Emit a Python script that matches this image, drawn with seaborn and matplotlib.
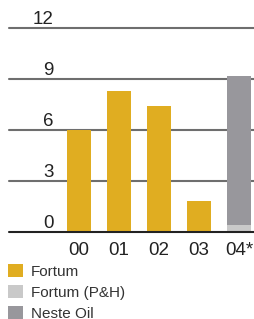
import numpy as np
import pandas as pd
import matplotlib
matplotlib.use("Agg")
import matplotlib.pyplot as plt
from matplotlib.patches import Patch
import seaborn as sns

# Data
years = ["00", "01", "02", "03", "04*"]
fortum = [6.0, 8.3, 7.4, 1.8, 0.0]
fortum_ph = [0.0, 0.0, 0.0, 0.0, 0.4]
neste_oil = [0.0, 0.0, 0.0, 0.0, 8.8]
yticks = [0, 3, 6, 9, 12]

series_names = ["Fortum", "Fortum (P&H)", "Neste Oil"]
colors = ["#e0ad21", "#c9c9c9", "#98979c"]

sns.set_theme(style="white")
plt.rcParams["font.family"] = ["Liberation Sans", "DejaVu Sans"]

df = pd.DataFrame({"year": years, "fortum": fortum, "ph": fortum_ph, "neste": neste_oil})
df["lvl1"] = df["fortum"]
df["lvl2"] = df["fortum"] + df["ph"]
df["lvl3"] = df["fortum"] + df["ph"] + df["neste"]

W, H = 255, 319
fig = plt.figure(figsize=(W / 100, H / 100), dpi=100)
ax = fig.add_axes([9 / W, (H - 232) / H, 246 / W, 204 / H])

# gridlines behind bars
for t in yticks:
    c = "#222222" if t == 0 else "#6e6e6e"
    ax.axhline(t, color=c, lw=1.5, zorder=0 if t else 5, clip_on=False)

# stacked bars: draw cumulative layers from top down
for col, c, z in [("lvl3", colors[2], 2), ("lvl2", colors[1], 3), ("lvl1", colors[0], 4)]:
    sns.barplot(data=df, x="year", y=col, color=c, width=0.6, saturation=1,
                linewidth=0, edgecolor="none", ax=ax, zorder=z)

ax.set_xlim(-1.75, 4.4)
ax.set_ylim(0, 12)
ax.set_xlabel("")
ax.set_ylabel("")
ax.set_yticks([])
for s in ax.spines.values():
    s.set_visible(False)

ax.tick_params(axis="x", length=0, pad=7, labelsize=13.5, labelcolor="#222222")

# y labels sit above the gridlines
for t in yticks:
    ax.annotate(str(t), xy=(-0.63, t), xytext=(0, 3), textcoords="offset points",
                ha="right", va="baseline", fontsize=13.5, color="#222222")

handles = [Patch(facecolor=c, edgecolor="none") for c in colors]
fig.legend(handles, series_names, loc="upper left",
           bbox_to_anchor=(5 / W, 1 - 261 / H), frameon=False,
           fontsize=11, handlelength=0.95, handleheight=0.95,
           handletextpad=0.55, labelspacing=0.4, borderaxespad=0,
           borderpad=0.2, labelcolor="#333333")

fig.savefig("out.png", dpi=100)
